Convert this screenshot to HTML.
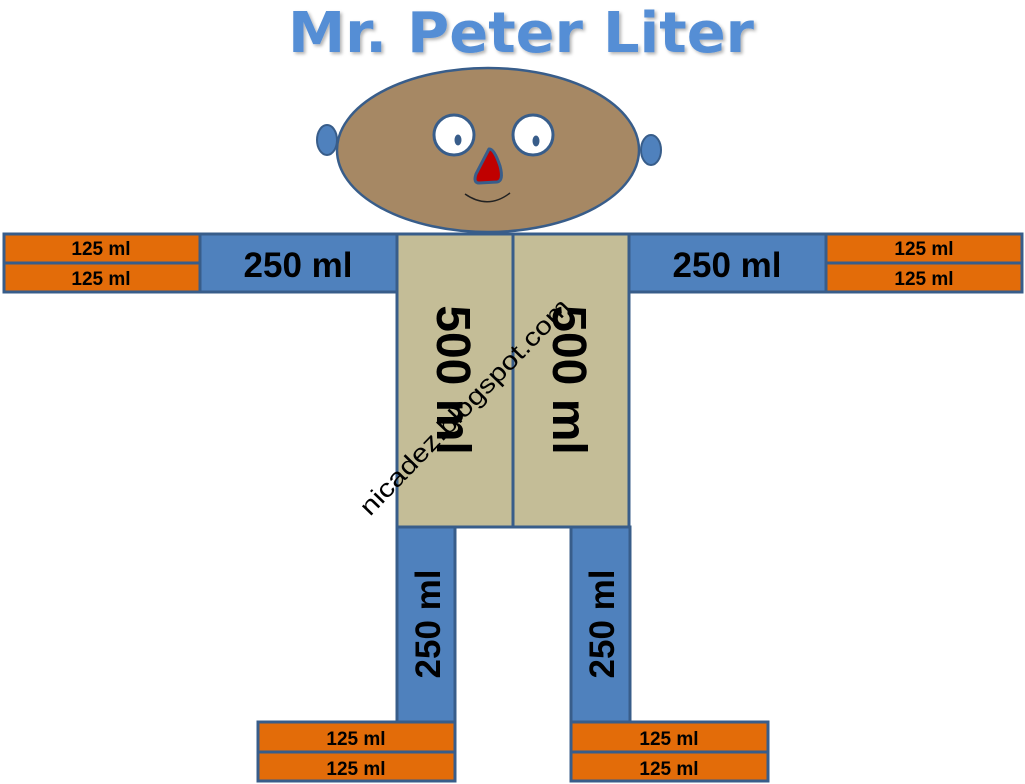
<!DOCTYPE html>
<html><head><meta charset="utf-8"><style>
html,body{margin:0;padding:0;background:#fff;}
svg{display:block;}
text{font-family:"Liberation Sans","DejaVu Sans",sans-serif;}
</style></head><body>
<svg width="1025" height="784" viewBox="0 0 1025 784" xmlns="http://www.w3.org/2000/svg">
<defs><filter id="sh" x="-5%" y="-5%" width="110%" height="120%"><feDropShadow dx="2" dy="2" stdDeviation="1.5" flood-color="#000" flood-opacity="0.3"/></filter></defs>
<text x="521" y="52" text-anchor="middle" font-weight="bold" font-size="56" fill="#558ed5" filter="url(#sh)" textLength="466" lengthAdjust="spacingAndGlyphs" style="font-family:'DejaVu Sans',sans-serif">Mr. Peter Liter</text>
<!-- ears -->
<ellipse cx="327" cy="140" rx="10" ry="15" fill="#4f81bd" stroke="#385d8a" stroke-width="2"/>
<ellipse cx="651" cy="150" rx="10" ry="15" fill="#4f81bd" stroke="#385d8a" stroke-width="2"/>
<!-- head -->
<ellipse cx="488" cy="150" rx="151" ry="82" fill="#a68864" stroke="#385d8a" stroke-width="2.5"/>
<circle cx="454" cy="135" r="20" fill="#fff" stroke="#385d8a" stroke-width="3"/>
<circle cx="533" cy="135" r="20" fill="#fff" stroke="#385d8a" stroke-width="3"/>
<ellipse cx="458" cy="140" rx="3.5" ry="5.5" fill="#385d8a"/>
<ellipse cx="536" cy="141" rx="3.5" ry="5.5" fill="#385d8a"/>
<path d="M489 149 Q494 148 500 166 Q504 181 497 182 L479 183 Q473 183 476 174 Z" fill="#c00000" stroke="#385d8a" stroke-width="3" stroke-linejoin="round"/>
<path d="M465 194 Q488 210 510 193" fill="none" stroke="#222" stroke-width="1.5"/>
<g stroke="#385d8a" stroke-width="3">
<rect x="4" y="234" width="196" height="29" fill="#e36c09"/>
<rect x="4" y="263" width="196" height="29" fill="#e36c09"/>
<rect x="200" y="234" width="197" height="58" fill="#4f81bd"/>
<rect x="629" y="234" width="197" height="58" fill="#4f81bd"/>
<rect x="826" y="234" width="196" height="29" fill="#e36c09"/>
<rect x="826" y="263" width="196" height="29" fill="#e36c09"/>
<rect x="397" y="234" width="116" height="293" fill="#c4bd97"/>
<rect x="513" y="234" width="116" height="293" fill="#c4bd97"/>
<rect x="397" y="527" width="58" height="195" fill="#4f81bd"/>
<rect x="571" y="527" width="59" height="195" fill="#4f81bd"/>
<rect x="258" y="722" width="197" height="30" fill="#e36c09"/>
<rect x="258" y="752" width="197" height="29" fill="#e36c09"/>
<rect x="571" y="722" width="197" height="30" fill="#e36c09"/>
<rect x="571" y="752" width="197" height="29" fill="#e36c09"/>
</g>
<g font-weight="bold" fill="#000" text-anchor="middle">
<text x="101" y="255" font-size="19">125 ml</text>
<text x="101" y="285" font-size="19">125 ml</text>
<text x="924" y="255" font-size="19">125 ml</text>
<text x="924" y="285" font-size="19">125 ml</text>
<text x="356" y="745" font-size="19">125 ml</text>
<text x="356" y="775" font-size="19">125 ml</text>
<text x="669" y="745" font-size="19">125 ml</text>
<text x="669" y="775" font-size="19">125 ml</text>
<text x="298" y="277" font-size="35">250 ml</text>
<text x="727" y="277" font-size="35">250 ml</text>
<text transform="translate(437,380) rotate(90)" font-size="48">500 ml</text>
<text transform="translate(553,380) rotate(90)" font-size="48">500 ml</text>
<text transform="translate(440,624) rotate(-90)" font-size="35">250 ml</text>
<text transform="translate(614,624) rotate(-90)" font-size="35">250 ml</text>
</g>
<text transform="translate(370,517) rotate(-46)" font-size="25" fill="#000" textLength="290" lengthAdjust="spacingAndGlyphs">nicadez.blogspot.com</text>
</svg>
</body></html>
